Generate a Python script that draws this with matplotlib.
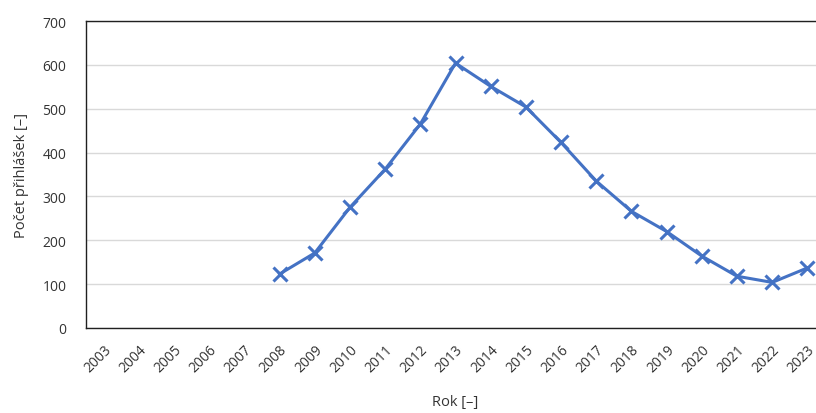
import matplotlib
matplotlib.use("Agg")
import matplotlib.pyplot as plt

# --- Data -------------------------------------------------------------
years = [str(y) for y in range(2003, 2024)]
data_years = ["2008", "2009", "2010", "2011", "2012", "2013", "2014", "2015",
              "2016", "2017", "2018", "2019", "2020", "2021", "2022", "2023"]
applications = [123, 171, 275, 362, 465, 604, 551, 504,
                423, 335, 266, 220, 164, 118, 104, 137]

plt.rcParams["font.family"] = ["Open Sans", "DejaVu Sans"]

fig = plt.figure(figsize=(8.16, 4.14), dpi=100)
ax = fig.add_axes([86 / 816, 1 - 329 / 414, (825 - 86) / 816, (329 - 22) / 414])

xpos = [years.index(y) for y in data_years]
ax.plot(xpos, applications, color="#4472C4", linewidth=2.2,
        marker="x", markersize=10, markeredgewidth=2.2)

ax.set_xlim(-0.5, len(years) - 0.5)
ax.set_ylim(0, 700)
ax.set_yticks(range(0, 701, 100))
ax.set_xticks(range(len(years)))
ax.set_xticklabels(years, rotation=45, ha="right", rotation_mode="anchor")
ax.tick_params(length=0, labelsize=10, colors="#333333")
ax.tick_params(axis="y", pad=14)
ax.tick_params(axis="x", pad=10)

ax.grid(axis="y", color="#d9d9d9", linewidth=1)
ax.set_axisbelow(True)
for s in ax.spines.values():
    s.set_color("#202020")
    s.set_linewidth(1)

ax.set_ylabel("Počet přihlášek [–]", fontsize=10.5, color="#333333", labelpad=10)
ax.set_xlabel("Rok [–]", fontsize=10.5, color="#333333", labelpad=14)

fig.savefig("out.png", dpi=100)
